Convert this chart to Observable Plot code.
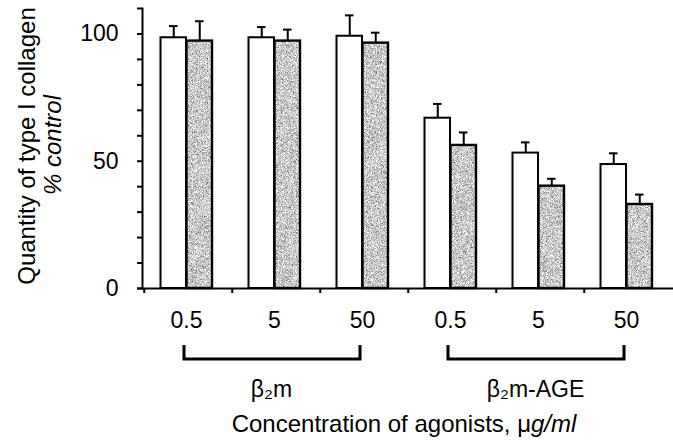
<!DOCTYPE html>
<html><head><meta charset="utf-8">
<script src="https://cdn.jsdelivr.net/npm/d3@7"></script>
<script src="https://cdn.jsdelivr.net/npm/@observablehq/plot@0.6"></script>
<style>html,body{margin:0;padding:0;background:#fff} svg{display:block}</style>
</head><body><div id="chart"></div>
<script>
// ---- data ----
const agonists = ["β₂m", "β₂m", "β₂m", "β₂m-AGE", "β₂m-AGE", "β₂m-AGE"];
const concentrations = ["0.5", "5", "50", "0.5", "5", "50"];
const controlValues = [98.5, 98.5, 99.1, 66.9, 53.2, 48.7];
const controlErrors = [4.6, 4.2, 8.2, 5.6, 4.2, 4.4];
const treatedValues = [97.2, 97.2, 96.4, 56.2, 40.2, 33.0];
const treatedErrors = [7.8, 4.5, 4.1, 5.1, 2.9, 3.9];
const yTicks = [0, 10, 20, 30, 40, 50, 60, 70, 80, 90, 100, 110];
const yTickLabels = [0, 50, 100];
const groupNames = ["β₂m", "β₂m-AGE"];

const keys = agonists.map((a, i) => a + " " + concentrations[i]);
const rows = keys.map((k, i) => ({
  key: k, conc: concentrations[i],
  control: controlValues[i], controlTop: controlValues[i] + controlErrors[i],
  treated: treatedValues[i], treatedTop: treatedValues[i] + treatedErrors[i]
}));
const groups = groupNames.map(name => {
  const ks = keys.filter((k, i) => agonists[i] === name);
  return {name, from: ks[0], mid: ks[1], to: ks[ks.length - 1]};
});

const font = "'Liberation Sans', Arial, Helvetica, sans-serif";

const chart = Plot.plot({
  width: 673, height: 442,
  marginLeft: 142, marginRight: 0, marginTop: 8, marginBottom: 154,
  style: {fontFamily: font, fontSize: "23px", background: "white", color: "black", overflow: "visible"},
  x: {domain: keys, padding: 0, label: null},
  y: {domain: [0, 110], label: null},
  marks: [
    Plot.barY(rows, {x: "key", y: "control", fill: "white", stroke: "black", strokeWidth: 2, insetLeft: 16.5, insetRight: 46}),
    Plot.barY(rows, {x: "key", y: "treated", fill: "url(#stipple)", stroke: "black", strokeWidth: 2.4, insetLeft: 42.5, insetRight: 20}),
    Plot.ruleX(rows, {x: "key", y1: "control", y2: "controlTop", stroke: "black", strokeWidth: 2, dx: -14.75}),
    Plot.tickY(rows, {x: "key", y: "controlTop", stroke: "black", strokeWidth: 2, insetLeft: 25, insetRight: 54.5}),
    Plot.ruleX(rows, {x: "key", y1: "treated", y2: "treatedTop", stroke: "black", strokeWidth: 2, dx: 11.25}),
    Plot.tickY(rows, {x: "key", y: "treatedTop", stroke: "black", strokeWidth: 2, insetLeft: 51, insetRight: 28.5}),
    Plot.ruleY([0], {stroke: "black", strokeWidth: 2, insetLeft: -5}),
    Plot.frame({anchor: "left", stroke: "black", strokeWidth: 2}),
    Plot.axisY({ticks: yTicks, tickSize: 5, tickPadding: 19, strokeWidth: 2, label: null,
      tickFormat: d => yTickLabels.includes(d) ? String(d) : "", fontSize: 23}),
    Plot.axisX({ticks: keys, tickSize: 5, strokeWidth: 2, label: null, tickFormat: () => "", dx: -44.25}),
    Plot.text(rows, {x: "key", y: 0, text: "conc", dy: 32, dx: -2, fontSize: 23}),
    Plot.text(groups, {x: "mid", y: 0, text: "name", dy: 101, dx: -5, fontSize: 23})
  ]
});

document.getElementById("chart").appendChild(chart);

// stipple texture for the grey bars
const svg = d3.select(chart);
const defs = svg.insert("defs", ":first-child");
const filt = defs.append("filter").attr("id", "grain").attr("x", 0).attr("y", 0)
  .attr("width", "100%").attr("height", "100%").attr("color-interpolation-filters", "sRGB");
filt.append("feTurbulence").attr("type", "fractalNoise").attr("baseFrequency", 2.2)
  .attr("numOctaves", 1).attr("seed", 7);
filt.append("feColorMatrix").attr("type", "matrix")
  .attr("values", "0.33 0.33 0.33 0 0  0.33 0.33 0.33 0 0  0.33 0.33 0.33 0 0  0 0 0 0 1");
const ct = filt.append("feComponentTransfer");
["feFuncR", "feFuncG", "feFuncB"].forEach(f => ct.append(f).attr("type", "linear").attr("slope", 2.2).attr("intercept", -0.3));
const pat = defs.append("pattern").attr("id", "stipple").attr("patternUnits", "userSpaceOnUse")
  .attr("width", 300).attr("height", 300);
pat.append("rect").attr("width", 300).attr("height", 300).attr("filter", "url(#grain)");

// brackets under the concentrations, through Plot's scales
const xs = chart.scale("x"), ys = chart.scale("y");
const cx = k => xs.apply(k) + xs.bandwidth / 2;
const y0 = ys.apply(0);
svg.append("g").selectAll("path").data(groups).join("path")
  .attr("d", g => `M${cx(g.from) - 4},${y0 + 57}V${y0 + 71}H${cx(g.to) - 4}V${y0 + 57}`)
  .attr("fill", "none").attr("stroke", "black").attr("stroke-width", 3);

// axis titles
const tg = svg.append("g").attr("font-family", font).attr("fill", "black").attr("font-size", 24);
tg.append("text").attr("transform", "translate(35,146) rotate(-90)").attr("text-anchor", "middle")
  .text("Quantity of type I collagen");
tg.append("text").attr("transform", "translate(61,145) rotate(-90)").attr("text-anchor", "middle")
  .attr("font-style", "italic").text("% control");
const xt = tg.append("text").attr("x", 404).attr("y", 432).attr("text-anchor", "middle");
xt.append("tspan").text("Concentration of agonists, μ");
xt.append("tspan").attr("font-style", "italic").text("g/ml");
</script>
</body></html>
